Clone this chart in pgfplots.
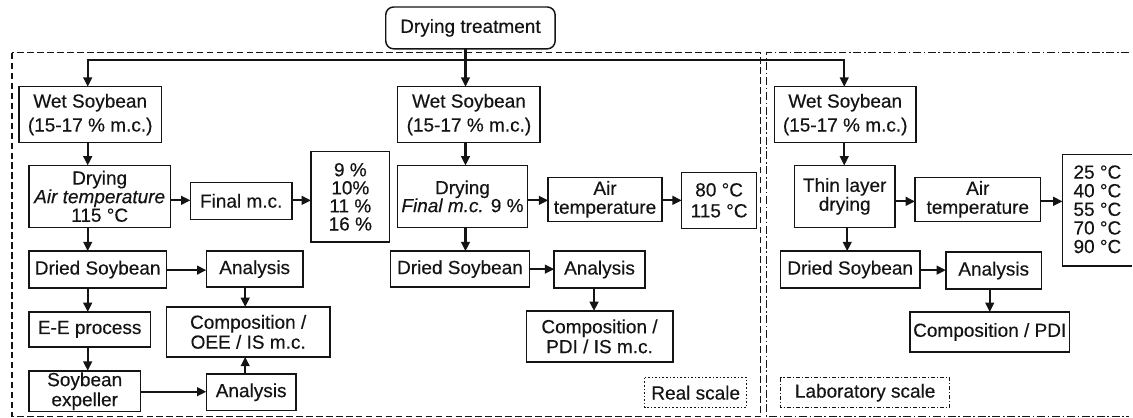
\documentclass[border=0pt]{standalone}
\usepackage{pgfplots}
\pgfplotsset{compat=1.18}
\usepackage{fontspec}
\setmainfont{Liberation Sans}[FakeBold=0.35, ItalicFeatures={FakeBold=0.35}]
\usetikzlibrary{arrows.meta,calc}
\definecolor{ink}{HTML}{141414}
\tikzset{
  bline/.style={draw=ink, line width=1.1pt},
  aline/.style={draw=ink, line width=1.6pt, -{Triangle[length=7pt,width=6.5pt]}},
  pline/.style={draw=ink, line width=1.6pt},
  txt/.style={align=center, text=ink, font=\fontsize{14.3}{14}\selectfont, inner sep=0pt},
}
\newcommand{\bx}[6][14]{%
  \draw[bline] (axis cs:#2,#3) rectangle (axis cs:#4,#5);
  \node[txt, font=\fontsize{14.3}{#1}\selectfont] at ($(axis cs:#2,#3)!0.5!(axis cs:#4,#5)$) {#6};}
\newcommand{\ar}[4]{\draw[aline] (axis cs:#1,#2) -- (axis cs:#3,#4);}
\begin{document}
\begin{tikzpicture}
\begin{axis}[hide axis, scale only axis, width=849.75pt, height=314.25pt,
  xmin=0, xmax=1133, ymin=0, ymax=419, y dir=reverse, clip=false]
\addplot[draw=none] coordinates {(0,0) (1133,419)};
\path (axis cs:0,0) rectangle (axis cs:1133,419);
% outer frames
\draw[ink, line width=0.9pt, dash pattern=on 5pt off 2.5pt] (axis cs:12,53) rectangle (axis cs:763,418);
\draw[ink, line width=0.9pt, dash pattern=on 6pt off 2pt on 1.2pt off 2pt] (axis cs:1133,53) -- (axis cs:769,53) -- (axis cs:769,418) -- (axis cs:1133,418);
% top
\draw[bline, rounded corners=6pt, fill=white] (axis cs:387,7) rectangle (axis cs:557,49);
\node[txt] at (axis cs:472,28) {Drying treatment};
\draw[pline] (axis cs:88,60) -- (axis cs:847,60);
\ar{467}{49}{467}{87}
\ar{88}{59.2}{88}{87}
\ar{847}{59.2}{847}{87}
% left column
\bx[18]{19}{87}{162}{143}{Wet Soybean\\(15-17 \% m.c.)}
\bx{29}{166}{171}{228}{Drying\\\textit{Air temperature}\\115 °C}
\bx{191}{183}{293}{220}{Final m.c.}
\bx[13.6]{312}{152}{391}{243}{9 \%\\10\%\\11 \%\\16 \%}
\bx{29}{252}{167}{289}{Dried Soybean}
\bx{207}{252}{304}{288}{Analysis}
\bx[15]{167}{308}{331}{358}{Composition /\\OEE / IS m.c.}
\bx{29}{313}{151}{348}{E-E process}
\bx[15]{29}{372}{141}{413}{Soybean\\expeller}
\bx{207}{375}{297}{412}{Analysis}
\ar{88}{143}{88}{166}
\ar{171}{201}{191}{201}
\ar{293}{201}{312}{201}
\ar{88}{228}{88}{252}
\ar{167}{271}{207}{271}
\ar{246}{288}{246}{308}
\ar{88}{289}{88}{313}
\ar{88}{348}{88}{372}
\ar{141}{393}{207}{393}
\ar{246}{375}{246}{358}
% middle column
\bx[18]{399}{87}{542}{143}{Wet Soybean\\(15-17 \% m.c.)}
\bx[13.5]{399}{166}{529}{228}{Drying\\\textit{Final m.c.} 9 \%}
\bx[14.25]{550}{178}{664}{222}{Air\\temperature}
\bx[15.75]{684}{173}{759}{229}{80 °C\\115 °C}
\bx{392}{252}{531}{288}{Dried Soybean}
\bx{556}{252}{647}{289}{Analysis}
\bx[15]{528}{312}{675}{363}{Composition /\\PDI / IS m.c.}
\ar{467}{143}{467}{166}
\ar{529}{201}{550}{201}
\ar{664}{201}{684}{201}
\ar{467}{228}{467}{252}
\ar{531}{270}{556}{270}
\ar{596}{289}{596}{312}
\draw[ink, line width=0.8pt, dash pattern=on 1.2pt off 1.5pt] (axis cs:647,379) rectangle (axis cs:749,409);
\node[txt] at (axis cs:698,394) {Real scale};
% right column
\bx[18]{777}{87}{919}{143}{Wet Soybean\\(15-17 \% m.c.)}
\bx[14.25]{797}{166}{898}{228}{Thin layer\\drying}
\bx[14.25]{918}{178}{1044}{222}{Air\\temperature}
\draw[bline] (axis cs:1136,155) -- (axis cs:1066,155) -- (axis cs:1066,267) -- (axis cs:1136,267);
\node[txt, font=\fontsize{14.3}{14}\selectfont] at (axis cs:1101,210) {25 °C\\40 °C\\55 °C\\70 °C\\90 °C};
\bx{783}{252}{923}{289}{Dried Soybean}
\bx{949}{253}{1045}{290}{Analysis}
\bx{913}{313}{1073}{353}{Composition / PDI}
\ar{847}{143}{847}{166}
\ar{898}{202}{918}{202}
\ar{1044}{202}{1066}{202}
\ar{850}{228}{850}{252}
\ar{923}{271}{949}{271}
\ar{993}{290}{993}{313}
\draw[ink, line width=0.8pt, dash pattern=on 3pt off 1.5pt on 0.8pt off 1.5pt] (axis cs:783,379) rectangle (axis cs:953,409);
\node[txt] at (axis cs:868,394) {Laboratory scale};
\end{axis}
\end{tikzpicture}
\end{document}
